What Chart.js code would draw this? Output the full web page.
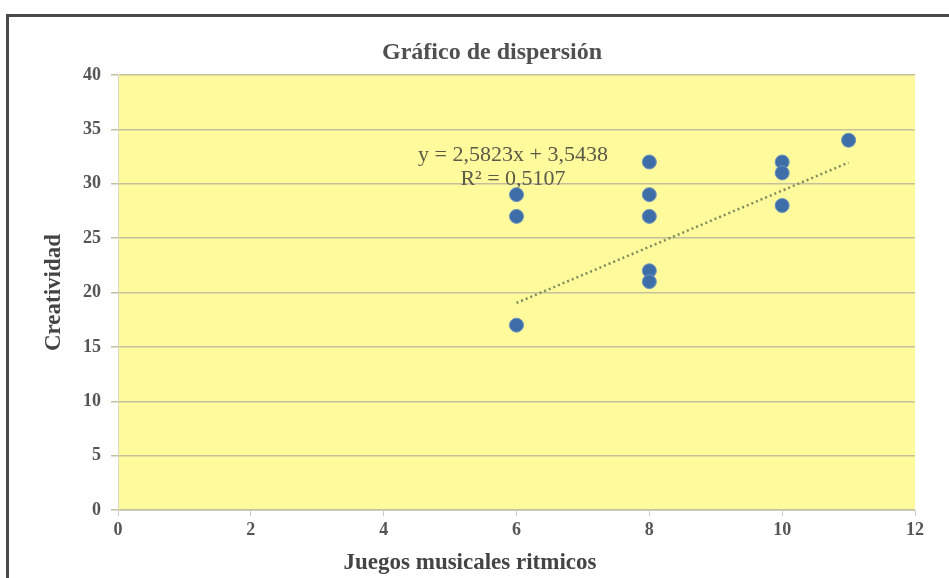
<!DOCTYPE html>
<html>
<head>
<meta charset="utf-8">
<script src="https://cdn.jsdelivr.net/npm/chart.js@4.4.1/dist/chart.umd.min.js"></script>
<style>
  html, body { margin: 0; padding: 0; background: #fff; overflow: hidden; }
  #marco { position: absolute; left: 6px; top: 14px; width: 980px; height: 620px;
           border-top: 3px solid #4a4a4a; border-left: 3px solid #4a4a4a; }
  #lienzo { position: absolute; left: 0; top: 0; width: 949px; height: 578px; }
</style>
</head>
<body>
<div id="marco"></div>
<div id="lienzo"><canvas id="grafico" width="949" height="578"></canvas></div>
<script>
// Datos
const juegosX = [6, 6, 6, 8, 8, 8, 8, 8, 10, 10, 10, 11];
const creatividadY = [29, 27, 17, 32, 29, 27, 22, 21, 32, 31, 28, 34];
// Línea de tendencia (extremos)
const tendenciaX = [6, 11];
const tendenciaY = [19.04, 31.95];
const ticksX = [0, 2, 4, 6, 8, 10, 12];
const ticksY = [0, 5, 10, 15, 20, 25, 30, 35, 40];
const ecuacion = 'y = 2,5823x + 3,5438';
const r2 = 'R² = 0,5107';

const puntos = juegosX.map((x, i) => ({ x: x, y: creatividadY[i] }));
const tendencia = tendenciaX.map((x, i) => ({ x: x, y: tendenciaY[i] }));

// Fondo amarillo, título, título del eje X y ecuación
const extras = {
    id: 'extras',
    beforeDraw(chart) {
        const { ctx, chartArea: a } = chart;
        ctx.save();
        ctx.fillStyle = '#fffa9c';
        ctx.fillRect(a.left, a.top, a.right - a.left, a.bottom - a.top);
        ctx.restore();
    },
    afterDraw(chart) {
        const { ctx } = chart;
        ctx.save();
        ctx.textAlign = 'center';
        ctx.textBaseline = 'middle';
        ctx.fillStyle = '#505050';
        ctx.font = 'bold 24px "Liberation Serif"';
        ctx.fillText('Gráfico de dispersión', 492, 53);
        ctx.fillStyle = '#444';
        ctx.font = 'bold 23px "Liberation Serif"';
        ctx.fillText('Juegos musicales ritmicos', 470, 563);
        ctx.fillStyle = '#5a5a48';
        ctx.font = '22px "Liberation Serif"';
        ctx.fillText(ecuacion, 513, 155);
        ctx.fillText(r2, 513, 179);
        ctx.restore();
    }
};

const ctx = document.getElementById('grafico').getContext('2d');
new Chart(ctx, {
    type: 'scatter',
    data: {
        datasets: [{
            label: 'Creatividad',
            data: puntos,
            backgroundColor: '#3d6ea7',
            borderColor: '#6d93c0',
            borderWidth: 1,
            pointRadius: 7,
            order: 1
        }, {
            label: 'Tendencia',
            type: 'line',
            data: tendencia,
            showLine: true,
            borderColor: '#7d8c5c',
            borderWidth: 2.5,
            borderDash: [2, 3],
            pointRadius: 0,
            fill: false,
            order: 2
        }]
    },
    options: {
        responsive: false,
        animation: false,
        layout: { padding: { top: 75, right: 34, left: 0, bottom: 0 } },
        plugins: {
            legend: { display: false },
            tooltip: { enabled: false },
            title: { display: false }
        },
        scales: {
            x: {
                type: 'linear',
                min: 0,
                max: 12,
                afterBuildTicks(s) { s.ticks = ticksX.map(v => ({ value: v })); },
                afterFit(s) { s.height = 68; },
                ticks: {
                    color: '#555',
                    padding: 4,
                    font: { family: 'Liberation Serif', weight: 'bold', size: 18 }
                },
                grid: { drawOnChartArea: false, drawTicks: true, tickLength: 6, color: '#c8c8c8' },
                border: { display: true, color: '#d0d0b8', width: 1 },
                title: { display: false }
            },
            y: {
                type: 'linear',
                min: 0,
                max: 40,
                afterBuildTicks(s) { s.ticks = ticksY.map(v => ({ value: v })); },
                afterFit(s) { s.width = 118; },
                ticks: {
                    color: '#555',
                    padding: 10,
                    font: { family: 'Liberation Serif', weight: 'bold', size: 18 }
                },
                grid: { color: '#c4bf9c', lineWidth: 1.5, tickLength: 7 },
                border: { display: true, color: '#d8d8c8', width: 1 },
                title: {
                    display: true,
                    text: 'Creatividad',
                    color: '#444',
                    padding: { top: 40, bottom: 0 },
                    font: { family: 'Liberation Serif', weight: 'bold', size: 23 }
                }
            }
        }
    },
    plugins: [extras]
});
</script>
</body>
</html>
